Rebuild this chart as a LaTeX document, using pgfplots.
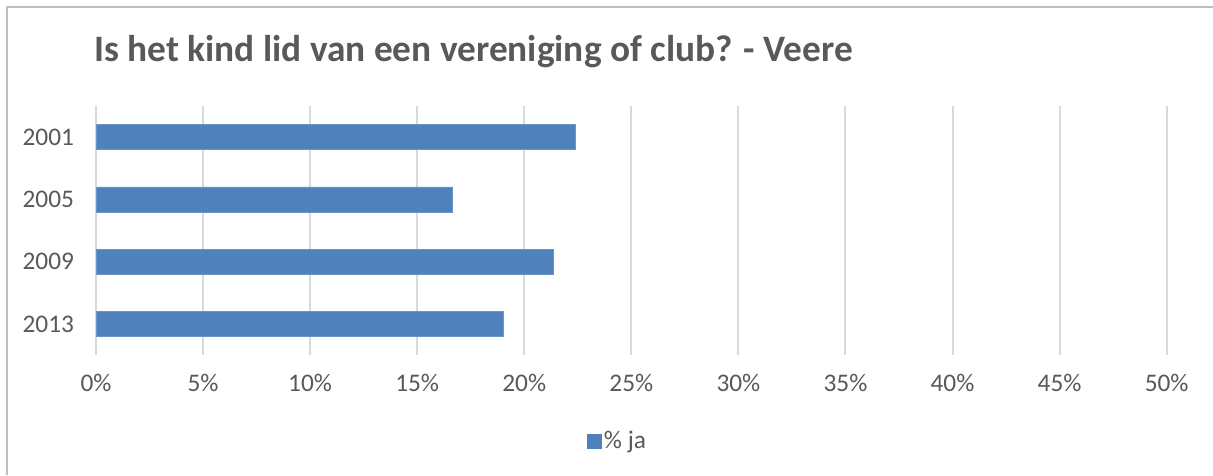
\documentclass[border=0pt]{standalone}
\usepackage{pgfplots}
\pgfplotsset{compat=1.18}
\usepackage{fontspec}
\setmainfont{Carlito}
\definecolor{barblue}{HTML}{4F81BD}
\definecolor{gridgray}{HTML}{D9D9D9}
\definecolor{txtgray}{HTML}{595959}
\definecolor{framegray}{HTML}{BFBFBF}
\begin{document}
\begin{tikzpicture}
\useasboundingbox (0pt,0pt) rectangle (909.75pt,356.25pt);
\fill[white] (0pt,0pt) rectangle (909.75pt,356.25pt);
\draw[framegray, line width=1.5pt] (5.25pt,0pt) -- (5.25pt,351pt) -- (909.75pt,351pt);
\node[anchor=base west, text=txtgray, font=\bfseries\fontsize{28}{32}\selectfont, inner sep=0pt] at (70.5pt,309.75pt) {Is het kind lid van een vereniging of club? - Veere};
\begin{axis}[
  at={(72pt,90pt)}, anchor=south west,
  scale only axis, width=803pt, height=186.75pt,
  xbar, bar width=18.75pt,
  xmin=0, xmax=50, ymin=-0.5, ymax=3.5,
  y dir=reverse,
  xtick={0,5,...,50},
  xticklabel={\pgfmathprintnumber{\tick}\%},
  /pgf/number format/assume math mode=true,
  ytick={0,1,2,3}, yticklabels={2001,2005,2009,2013},
  xmajorgrids, grid style={gridgray, line width=1.5pt},
  axis line style={draw=none},
  major tick length=0pt,
  ticklabel style={text=txtgray, font=\fontsize{19}{22}\selectfont},
  xticklabel style={yshift=-11pt},
  yticklabel style={xshift=-13pt},
  legend style={at={(0.5,-0.29)}, anchor=north, xshift=-10pt, yshift=1pt, draw=none, fill=none, font=\fontsize{19}{22}\selectfont, text=txtgray, legend cell align=left},
  legend image code/.code={\fill[barblue] (-3pt,-5pt) rectangle (7pt,5pt);},
]
\draw[gridgray, line width=1.5pt] (axis cs:0,-0.5) -- (axis cs:0,3.5);
\addplot[fill=barblue, draw=barblue!85!white] coordinates {(22.4,0) (16.65,1) (21.35,2) (19.02,3)};
\addlegendentry{\% ja}
\end{axis}
\end{tikzpicture}
\end{document}
